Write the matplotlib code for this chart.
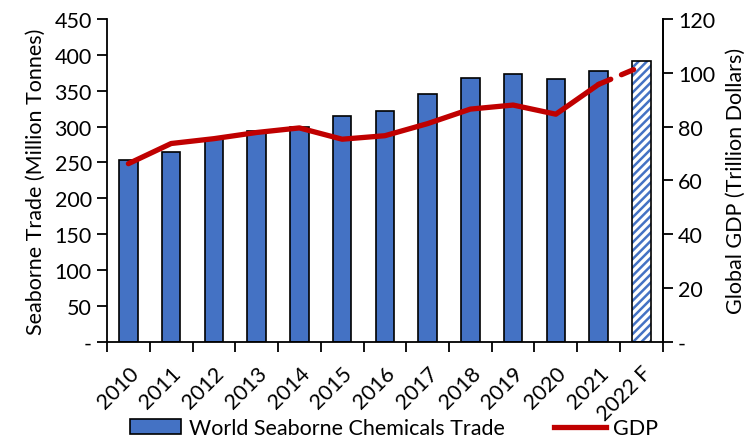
import matplotlib
matplotlib.use("Agg")
import matplotlib.pyplot as plt
from matplotlib.lines import Line2D
from matplotlib.patches import Patch
from matplotlib.ticker import FixedLocator, FuncFormatter

plt.rcParams['font.family'] = ['Lato', 'DejaVu Sans']
plt.rcParams['hatch.linewidth'] = 1.8

years = ["2010", "2011", "2012", "2013", "2014", "2015", "2016",
         "2017", "2018", "2019", "2020", "2021", "2022 F"]
trade = [253, 265, 283, 294, 300, 315, 322, 345, 368, 373, 367, 377, 392]
gdp = [66.2, 73.7, 75.5, 77.8, 79.5, 75.3, 76.6, 81.1, 86.5, 88.0, 84.6, 95.7, 102.4]

blue = '#4472C4'
red = '#C00000'
fs = 15.5

fig = plt.figure(figsize=(7.49, 4.39), dpi=100)
ax = fig.add_axes([0.1429, 0.2194, 0.7419, 0.735])
ax2 = ax.twinx()

x = list(range(len(years)))
bw = 0.43
n_actual = len(years) - 1

# actual years: solid bars
ax.bar(x[:n_actual], trade[:n_actual], width=bw, color=blue,
       edgecolor='black', linewidth=1.2, zorder=2)
# forecast year: hatched bar
ax.bar(x[-1], trade[-1], width=bw, facecolor='white', edgecolor=blue,
       hatch='////', linewidth=0, zorder=2)
ax.bar(x[-1], trade[-1], width=bw, fill=False, edgecolor='black',
       linewidth=1.2, zorder=3)

# GDP line: solid for actuals, dashed into forecast
ax2.plot(x[:n_actual], gdp[:n_actual], color=red, lw=3.8,
         solid_capstyle='round', solid_joinstyle='round', zorder=4)
ax2.plot(x[-2:], gdp[-2:], color=red, lw=3.8, dashes=(2.5, 2.2),
         dash_capstyle='round', zorder=4)

ax.set_xlim(-0.5, len(years) - 0.5)
ax.set_ylim(0, 450)
ax2.set_ylim(0, 120)

dash_fmt = lambda v, p: '-' if v == 0 else f'{v:g}'
ax.set_yticks(range(0, 451, 50))
ax.yaxis.set_major_formatter(FuncFormatter(dash_fmt))
ax2.set_yticks(range(0, 121, 20))
ax2.yaxis.set_major_formatter(FuncFormatter(dash_fmt))

ax.set_xticks(x)
ax.set_xticklabels(years, rotation=45, ha='right', rotation_mode='anchor')
ax.xaxis.set_minor_locator(FixedLocator([i - 0.5 for i in range(len(years) + 1)]))
ax.tick_params(axis='x', which='major', length=0, pad=15, labelsize=fs)
ax.tick_params(axis='x', which='minor', length=7, width=1.3, direction='out')
ax.tick_params(axis='y', length=7, width=1.3, labelsize=fs, pad=4)
ax2.tick_params(axis='y', length=7, width=1.3, labelsize=fs, pad=4)

for a in (ax, ax2):
    a.spines['top'].set_visible(False)
    for s in a.spines.values():
        s.set_linewidth(1.3)
ax2.spines['left'].set_visible(False)
ax2.spines['bottom'].set_visible(False)

ax.set_ylabel('Seaborne Trade (Million Tonnes)', fontsize=fs, labelpad=6)
ax2.set_ylabel('Global GDP (Trillion Dollars)', fontsize=fs, labelpad=8,
               rotation=90)

handles = [Patch(facecolor=blue, edgecolor='black', linewidth=1.2),
           Line2D([0], [0], color=red, lw=3.8)]
fig.legend(handles, ['World Seaborne Chemicals Trade', 'GDP'],
           loc='lower center', bbox_to_anchor=(0.526, -0.045), ncol=2,
           frameon=False, fontsize=fs, handlelength=2.4, columnspacing=2.3,
           handletextpad=0.35)

fig.savefig('out.png', dpi=100)
